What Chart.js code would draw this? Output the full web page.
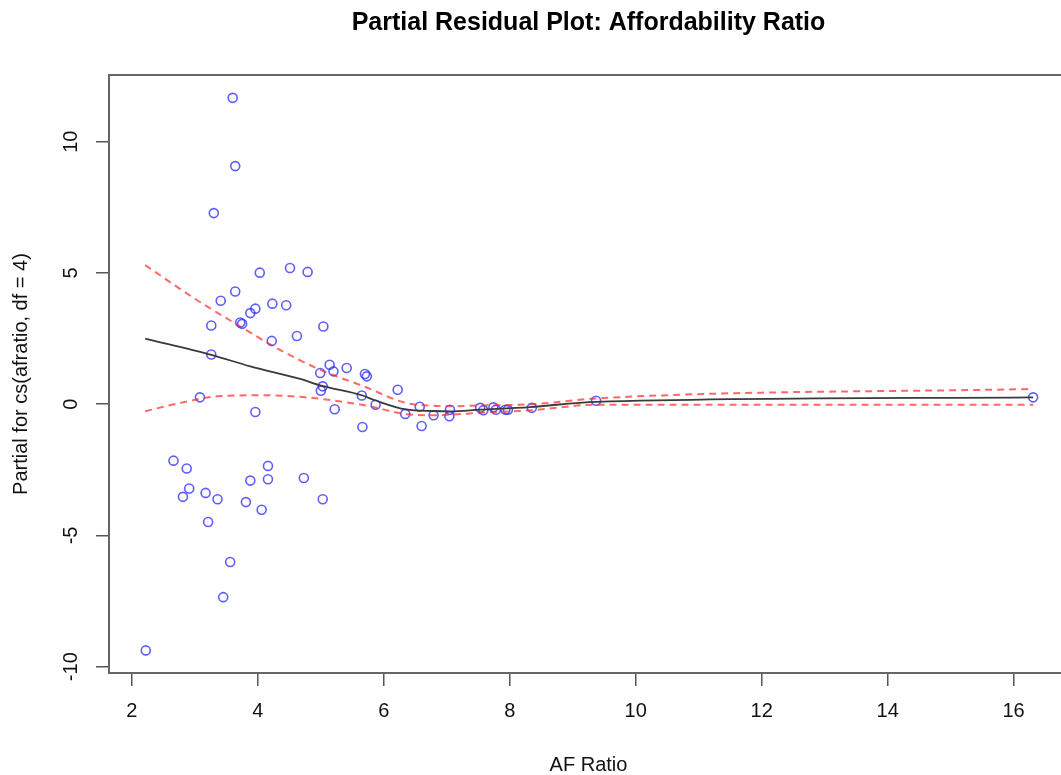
<!DOCTYPE html>
<html><head><meta charset="utf-8">
<script src="https://cdn.jsdelivr.net/npm/chart.js@4.4.1/dist/chart.umd.min.js"></script>
<style>
html,body{margin:0;padding:0;overflow:hidden;background:#fff;width:1061px;height:775px}
#wrap{width:1177px;height:775px}
canvas{display:block}
</style></head>
<body><div id="wrap"><canvas id="c" width="1177" height="775"></canvas></div>
<script>
const titleText = "Partial Residual Plot: Affordability Ratio";
const xAxisLabel = "AF Ratio";
const yAxisLabel = "Partial for cs(afratio, df = 4)";
const xTicks = [2, 4, 6, 8, 10, 12, 14, 16];
const yTicks = [-10, -5, 0, 5, 10];
const xRange = [1.636, 16.864];
const yRange = [-10.24, 12.54];

// partial residuals
const pointX = [3.60, 3.64, 3.30, 4.03, 4.51, 4.79, 3.64, 3.41, 4.23, 4.45, 3.96, 3.88, 3.72, 3.75, 3.26, 5.04, 4.62, 4.22, 3.26,
  5.14, 5.20, 5.41, 4.99, 5.70, 5.73, 5.03, 5.00, 3.08, 3.96, 5.22, 5.65, 5.66, 5.87, 6.22, 6.34, 6.57, 6.60, 6.79, 7.05, 7.04,
  7.53, 7.58, 7.74, 7.78, 7.93, 7.97, 8.35, 9.37, 16.31,
  2.66, 2.87, 2.91, 2.81, 3.17, 3.36, 3.21, 3.56, 3.45, 2.22, 4.16, 3.88, 4.16, 4.73, 3.81, 4.06, 5.03];
const pointY = [11.67, 9.07, 7.28, 5.01, 5.19, 5.04, 4.29, 3.94, 3.83, 3.77, 3.64, 3.47, 3.11, 3.06, 3.00, 2.96, 2.60, 2.41, 1.89,
  1.50, 1.25, 1.38, 1.19, 1.15, 1.06, 0.68, 0.51, 0.26, -0.30, -0.19, 0.33, -0.87, -0.02, 0.55, -0.37, -0.10, -0.83, -0.42, -0.21, -0.46,
  -0.14, -0.23, -0.12, -0.21, -0.21, -0.21, -0.14, 0.13, 0.26,
  -2.15, -2.45, -3.21, -3.53, -3.38, -3.62, -4.49, -6.01, -7.35, -9.38, -2.35, -2.91, -2.86, -2.81, -3.73, -4.02, -3.62];

// fitted smooth term
const fitX = [2.21, 3.26, 3.88, 4.67, 5.02, 5.65, 5.87, 6.35, 6.79, 7.05, 7.53, 8.32, 9.37, 16.31];
const fitY = [2.50, 1.88, 1.44, 0.96, 0.70, 0.34, 0.14, -0.20, -0.26, -0.27, -0.21, -0.11, 0.09, 0.26];

// upper / lower standard-error bands
const upperX = [2.21, 3.03, 3.72, 4.35, 4.99, 5.68, 6.35, 6.79, 7.05, 7.53, 8.35, 9.37, 16.31];
const upperY = [5.30, 3.97, 2.96, 2.07, 1.31, 0.68, 0.05, -0.06, -0.08, -0.05, 0.00, 0.22, 0.58];
const lowerX = [2.21, 2.77, 3.35, 4.09, 4.72, 5.41, 5.78, 6.35, 6.79, 7.05, 7.53, 8.35, 9.37, 16.31];
const lowerY = [-0.27, 0.05, 0.30, 0.34, 0.27, 0.07, -0.08, -0.38, -0.42, -0.40, -0.33, -0.23, -0.02, -0.02];

const zip = (xs, ys) => xs.map((x, i) => ({x: x, y: ys[i]}));
const FONT = "'Liberation Sans', Arial, Helvetica, sans-serif";

const boxPlugin = {
  id: 'box',
  beforeDatasetsDraw(chart) {
    const {ctx, chartArea: a} = chart;
    ctx.save();
    ctx.strokeStyle = '#666';
    ctx.lineWidth = 2;
    ctx.strokeRect(a.left, a.top, a.right - a.left, a.bottom - a.top);
    ctx.restore();
  }
};

new Chart(document.getElementById('c'), {
  type: 'scatter',
  data: {
    datasets: [
      {
        label: 'partial residuals',
        data: zip(pointX, pointY),
        showLine: false,
        pointStyle: 'circle',
        pointRadius: 4.5,
        pointBorderWidth: 1.6,
        pointBackgroundColor: 'rgba(0,0,0,0)',
        pointBorderColor: 'rgba(40,40,255,0.75)',
        order: 3
      },
      {
        label: 'fit',
        data: zip(fitX, fitY),
        showLine: true,
        pointRadius: 0,
        borderColor: '#3a3a3a',
        borderWidth: 1.8,
        cubicInterpolationMode: 'monotone',
        order: 0
      },
      {
        label: 'upper',
        data: zip(upperX, upperY),
        showLine: true,
        pointRadius: 0,
        borderColor: 'rgba(255,40,40,0.7)',
        borderWidth: 2,
        borderDash: [7, 5],
        cubicInterpolationMode: 'monotone',
        order: 1
      },
      {
        label: 'lower',
        data: zip(lowerX, lowerY),
        showLine: true,
        pointRadius: 0,
        borderColor: 'rgba(255,40,40,0.7)',
        borderWidth: 2,
        borderDash: [7, 5],
        cubicInterpolationMode: 'monotone',
        order: 1
      }
    ]
  },
  options: {
    responsive: false,
    devicePixelRatio: 1,
    animation: false,
    events: [],
    layout: {padding: 0},
    plugins: {
      legend: {display: false},
      tooltip: {enabled: false},
      title: {
        display: true,
        text: titleText,
        color: '#000',
        font: {family: FONT, size: 25, weight: 'bold', lineHeight: 1.2},
        padding: {top: 8.5, bottom: 36.5}
      }
    },
    scales: {
      x: {
        type: 'linear',
        position: 'bottom',
        min: xRange[0],
        max: xRange[1],
        afterBuildTicks: s => { s.ticks = xTicks.map(v => ({value: v})); },
        afterFit: s => { s.height = 102; },
        ticks: {
          autoSkip: false, maxRotation: 0, minRotation: 0,
          padding: 13, color: '#111',
          font: {family: FONT, size: 20},
          callback: v => String(v)
        },
        grid: {display: true, drawOnChartArea: false, drawTicks: true, tickLength: 13, color: '#555', lineWidth: 1.5},
        border: {display: false},
        title: {display: true, text: xAxisLabel, color: '#111',
          font: {family: FONT, size: 20, lineHeight: 1}, padding: {top: 0, bottom: 0}}
      },
      y: {
        type: 'linear',
        position: 'left',
        min: yRange[0],
        max: yRange[1],
        afterBuildTicks: s => { s.ticks = yTicks.map(v => ({value: v})); },
        afterFit: s => { s.width = 109; },
        ticks: {
          autoSkip: false, minRotation: 90, maxRotation: 90, crossAlign: 'center',
          padding: 10.5, color: '#111',
          font: {family: FONT, size: 20},
          callback: v => String(v)
        },
        grid: {display: true, drawOnChartArea: false, drawTicks: true, tickLength: 13, color: '#555', lineWidth: 1.5},
        border: {display: false},
        title: {display: true, text: yAxisLabel, color: '#111',
          font: {family: FONT, size: 20, lineHeight: 1}, padding: {top: 11, bottom: 0}}
      },
      yRight: {
        type: 'linear',
        position: 'right',
        display: true,
        afterFit: s => { s.width = 109; },
        ticks: {display: false},
        grid: {display: false},
        border: {display: false}
      }
    }
  },
  plugins: [boxPlugin]
});
</script>
</body></html>
